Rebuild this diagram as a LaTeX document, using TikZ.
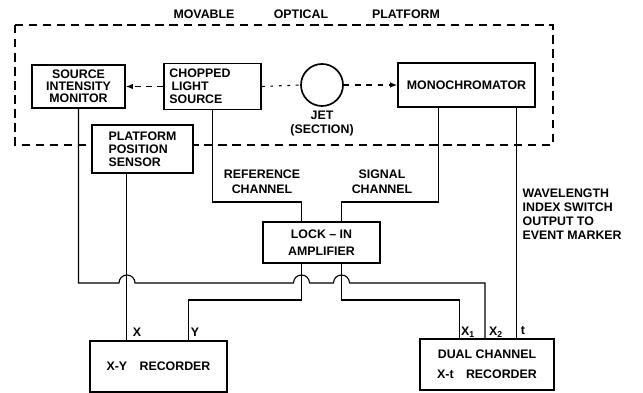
\documentclass[tikz,border=0pt]{standalone}
\usepackage{fontspec}
\setmainfont{Liberation Sans}
\usetikzlibrary{arrows.meta}
\begin{document}
\begin{tikzpicture}[
    x=0.025cm, y=0.025cm,
    font=\fontsize{8.8}{9}\selectfont\bfseries,
    unit/.style={draw, very thick, fill=white, align=center, inner sep=2pt},
    wire/.style={thick},
    beam/.style={thick, dash pattern=on 4pt off 4pt},
    lbl/.style={font=\fontsize{8.8}{10.5}\selectfont\bfseries, align=center, inner sep=1pt},
]
\useasboundingbox (0,0) rectangle (643,393);

% movable optical platform
\draw[thick, dash pattern=on 6pt off 4pt] (15,368) rectangle (553,248);
\node (tmov) at (204,379) {MOVABLE};
\node (topt) at (301,379) {OPTICAL};
\node (tpla) at (406,379) {PLATFORM};

\node[unit, minimum width=2.33cm, minimum height=1.08cm, font=\fontsize{8.8}{8.6}\selectfont\bfseries] (sim) at (78.5,306.5) {SOURCE\\INTENSITY\\MONITOR};
\node[unit, align=left, text width=2.15cm, inner sep=4pt, minimum height=1.08cm, font=\fontsize{8.8}{9.2}\selectfont\bfseries] (cls) at (212.5,306.5) {CHOPPED\\\,LIGHT\\SOURCE};
\node[circle, draw, very thick, minimum size=1.05cm, inner sep=0pt] (jet) at (322,308) {};
\node[lbl, font=\fontsize{8.8}{9.5}\selectfont\bfseries] (jetlbl) at (322,269.5) {JET\\(SECTION)};
\node[unit, minimum width=3.43cm, minimum height=1.1cm] (mono) at (466.5,308) {MONOCHROMATOR};
\node[unit, align=left, minimum width=2.53cm, minimum height=1.2cm, font=\fontsize{8.8}{9.4}\selectfont\bfseries] (pps) at (142.5,244) {PLATFORM\\POSITION\\SENSOR};

\node[unit, minimum width=2.93cm, minimum height=1.03cm] (lia) at (321.5,150.5) {LOCK -- IN\\[3pt]AMPLIFIER};
\node[unit, minimum width=3.43cm, minimum height=1.28cm] (xyr) at (158.5,26.5) {X-Y\quad RECORDER};
\node[unit, minimum width=3.35cm, minimum height=1.28cm] (dcr) at (487,28.5) {DUAL CHANNEL\\[5pt]X-t\quad RECORDER};

% light path
\draw[beam, -{Latex[length=5pt, width=4pt]}] (cls.west) -- (sim.east);
\draw[beam, dash pattern=on 2pt off 4pt] (cls.east) -- (jet.west);
\draw[beam, -{Latex[length=5pt, width=4pt]}] (jet.east) -- (mono.west);

% taps
\coordinate (xtap)   at ([xshift=-0.39cm]pps.south);
\coordinate (reftap) at ([xshift=-0.5cm]lia.north);
\coordinate (sigtap) at ([xshift=0.5cm]lia.north);
\coordinate (yout)   at ([xshift=-0.5cm]lia.south);
\coordinate (x1out)  at ([xshift=0.5cm]lia.south);
\coordinate (monout) at ([xshift=-0.71cm]mono.south);
\coordinate (wlout)  at ([xshift=1.26cm]mono.south);
\coordinate (yin)    at ([xshift=0.74cm]xyr.north);
\coordinate (x1in)   at ([xshift=-0.68cm]dcr.north);
\coordinate (x2in)   at ([xshift=-0.05cm]dcr.north);
\coordinate (chrow)  at (0,191);
\coordinate (busrow) at (0,110);
\coordinate (outrow) at (0,93);

% reference and signal channels
\draw[wire] (cls.south) |- (reftap |- chrow) -- (reftap);
\draw[wire] (monout) |- (sigtap |- chrow) -- (sigtap);
\node[lbl] (reflbl) at (262,211) {REFERENCE\\CHANNEL};
\node[lbl] (siglbl) at (382,211) {SIGNAL\\CHANNEL};

% recorder inputs
\draw[wire] (xtap) -- (xtap |- xyr.north);
\draw[wire] (yout) |- (yin |- outrow) -- (yin);
\draw[wire] (x1out) |- (x1in |- outrow) -- (x1in);
\draw[wire] (sim.south) |- (119,110)
    arc[start angle=180, end angle=0, radius=8] -- (293.5,110)
    arc[start angle=180, end angle=0, radius=8] -- (333.5,110)
    arc[start angle=180, end angle=0, radius=8] -- (x2in |- busrow) -- (x2in);
\draw[wire] (wlout) -- (wlout |- dcr.north);

\node[lbl, anchor=north west, align=left, font=\fontsize{8.8}{10}\selectfont\bfseries] (wllbl) at (521,206) {WAVELENGTH\\INDEX SWITCH\\OUTPUT TO\\EVENT MARKER};
\node[lbl] (xlbl)  at (137,61) {X};
\node[lbl] (ylbl)  at (195,61) {Y};
\node[lbl] (x1lbl) at (468,61) {X\textsubscript{1}};
\node[lbl] (x2lbl) at (496,61) {X\textsubscript{2}};
\node[lbl] (tlbl)  at (523,62) {t};
\end{tikzpicture}
\end{document}
